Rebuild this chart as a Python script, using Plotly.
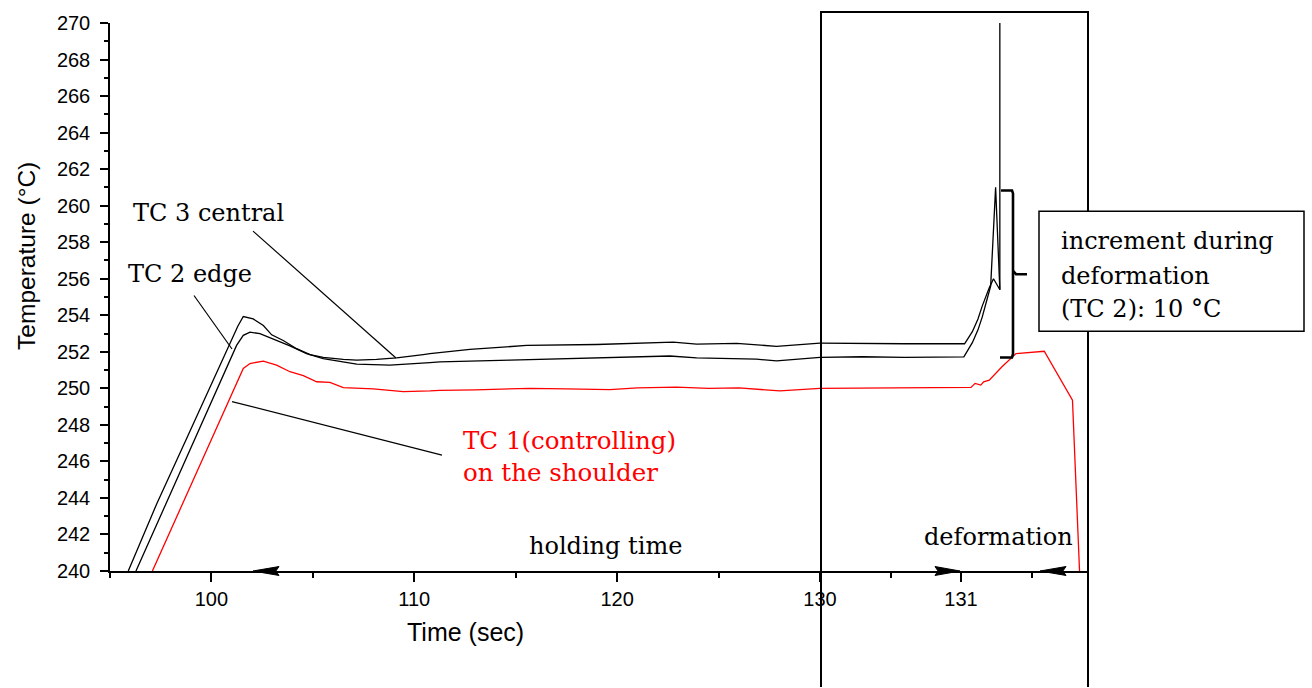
import plotly.graph_objects as go

# ---------------- data ----------------
# left (holding) section, time axis 95-130 s
tc3_t_left = [95.9, 97.3, 98.94, 100.58, 101.3, 101.57, 102.06, 102.56, 102.97, 103.54, 104.2, 104.86,
              105.51, 106.5, 107.16, 108.14, 109.13, 110.44, 110.77, 112.74, 115.54, 118.99, 121.0,
              122.76, 123.92, 125.89, 127.86, 130.0]
tc3_left = [240.0, 243.67, 247.65, 251.63, 253.4, 253.93, 253.8, 253.44, 252.93, 252.62, 252.17, 251.85,
            251.7, 251.59, 251.54, 251.58, 251.67, 251.85, 251.9, 252.13, 252.35, 252.4, 252.45,
            252.53, 252.42, 252.46, 252.3, 252.48]

tc2_t_left = [96.28, 98.0, 99.7, 101.24, 101.57, 101.9, 102.39, 102.89, 103.87, 104.69, 105.51, 107.16,
              108.8, 110.77, 111.26, 114.71, 118.99, 122.6, 123.92, 126.87, 127.86, 130.0]
tc2_left = [240.0, 244.3, 248.5, 252.35, 252.9, 253.08, 252.99, 252.77, 252.32, 251.9, 251.63, 251.32,
            251.27, 251.41, 251.45, 251.54, 251.67, 251.77, 251.67, 251.6, 251.5, 251.7]

tc1_t_left = [97.09, 99.3, 101.57, 101.9, 102.56, 103.21, 103.87, 104.53, 105.19, 105.84, 106.5, 107.98,
              109.46, 110.77, 111.26, 113.0, 115.7, 117.5, 119.64, 121.0, 122.93, 124.5, 126.0, 128.02, 130.0]
tc1_left = [240.0, 245.5, 251.09, 251.36, 251.49, 251.27, 250.91, 250.69, 250.36, 250.33, 250.04, 249.97,
            249.82, 249.86, 249.89, 249.92, 250.0, 249.97, 249.93, 250.02, 250.07, 250.0, 250.02, 249.86, 250.0]

# right (deformation) section, time axis 130-131.9 s
tc3_t_right = [130.0, 130.3, 130.6, 131.025, 131.08, 131.12, 131.15, 131.2, 131.23, 131.26, 131.275, 131.275]
tc3_right = [252.48, 252.45, 252.44, 252.44, 253.1, 253.8, 254.5, 255.5, 256.0, 255.6, 255.4, 275.0]

tc2_t_right = [130.0, 130.3, 130.6, 131.02, 131.08, 131.12, 131.15, 131.19, 131.21, 131.245, 131.275]
tc2_right = [251.7, 251.73, 251.7, 251.72, 252.5, 253.2, 253.9, 255.0, 255.6, 261.0, 255.4]

tc1_t_right = [130.0, 130.5, 131.0, 131.07, 131.1, 131.14, 131.16, 131.2, 131.29, 131.39, 131.59, 131.79, 131.84]
tc1_right = [250.0, 250.02, 250.04, 250.05, 250.27, 250.18, 250.36, 250.45, 251.18, 251.9, 252.03, 249.35, 240.0]

y_ticks = list(range(240, 271, 2))
x_left_ticks = [100, 110, 120]
x_right_ticks = [130, 131]

# ---------------- figure ----------------
W, H = 1312, 688
ML, MR, MT, MB = 110, 224, 18, 117
PW, PH = W - ML - MR, H - MT - MB


def px(x):
    return (x - ML) / PW


def py(y):
    return (H - MB - y) / PH


BLACK = "#000000"
RED = "#ff0000"
SERIF = "DejaVu Serif"
SANS = "Liberation Sans, Arial, sans-serif"

fig = go.Figure()
line_w = 1.3
for t, v, c in [(tc3_t_left, tc3_left, BLACK), (tc2_t_left, tc2_left, BLACK), (tc1_t_left, tc1_left, RED)]:
    fig.add_trace(go.Scatter(x=t, y=v, mode="lines", line=dict(color=c, width=line_w),
                             xaxis="x", yaxis="y", showlegend=False, hoverinfo="skip"))
for t, v, c in [(tc3_t_right, tc3_right, BLACK), (tc2_t_right, tc2_right, BLACK), (tc1_t_right, tc1_right, RED)]:
    fig.add_trace(go.Scatter(x=t, y=v, mode="lines", line=dict(color=c, width=line_w),
                             xaxis="x2", yaxis="y", showlegend=False, hoverinfo="skip"))

split = px(820)
tickfont = dict(family=SANS, size=20, color=BLACK)
axis_common = dict(showline=True, linecolor=BLACK, showgrid=False, zeroline=False,
                   ticks="outside", tickcolor=BLACK, tickfont=tickfont)

fig.update_layout(
    width=W, height=H,
    margin=dict(l=ML, r=MR, t=MT, b=MB),
    paper_bgcolor="white", plot_bgcolor="white",
    xaxis=dict(domain=[0, split], range=[95, 130], tickvals=x_left_ticks,
               ticktext=[str(v) for v in x_left_ticks], ticklen=9, tickwidth=1.5, linewidth=2.2,
               minor=dict(tickvals=[95, 105, 115, 125], ticklen=5, tickwidth=1.5, ticks="outside", tickcolor=BLACK),
               anchor="y", **axis_common),
    xaxis2=dict(domain=[split, 1], range=[130, 131.9], tickvals=x_right_ticks,
                ticktext=[str(v) for v in x_right_ticks], ticklen=9, tickwidth=1.5, linewidth=2.2,
                minor=dict(tickvals=[130.5, 131.5], ticklen=5, tickwidth=1.5, ticks="outside", tickcolor=BLACK),
                anchor="y", **axis_common),
    yaxis=dict(range=[240, 270], tickvals=y_ticks, ticktext=[str(v) for v in y_ticks],
               ticklen=8, tickwidth=1.5, linewidth=1.5, ticklabelstandoff=6,
               minor=dict(dtick=1, ticklen=4, tickwidth=1.5, ticks="outside", tickcolor=BLACK),
               anchor="x", **axis_common),
)

shapes = []
# big deformation frame
shapes.append(dict(type="path", xref="paper", yref="paper",
                   path=f"M {px(821)},{py(688)} L {px(821)},{py(7)} L {px(1088)},{py(7)} L {px(1088)},{py(688)}",
                   line=dict(color=BLACK, width=2), layer="above"))
# leader lines
for (x0, y0, x1, y1) in [(253, 228, 396, 356), (194, 293, 232, 347), (232, 400, 442, 454)]:
    shapes.append(dict(type="line", xref="paper", yref="paper", x0=px(x0), y0=py(y0), x1=px(x1), y1=py(y1),
                       line=dict(color=BLACK, width=1.2), layer="above"))
# bracket
shapes.append(dict(type="path", xref="paper", yref="paper",
                   path=(f"M {px(1001)},{py(187)} L {px(1012)},{py(187)} L {px(1013)},{py(190)} "
                         f"L {px(1013)},{py(352)} L {px(1012)},{py(355.5)} L {px(1000)},{py(355.5)}"),
                   line=dict(color=BLACK, width=2.6), layer="above"))
shapes.append(dict(type="path", xref="paper", yref="paper",
                   path=f"M {px(1013)},{py(268)} L {px(1016)},{py(271.5)} L {px(1027)},{py(271.5)}",
                   line=dict(color=BLACK, width=2.6), layer="above"))
# arrowheads on the time axis
for tip, base in [(253, 279), (960, 935), (1040, 1066)]:
    shapes.append(dict(type="path", xref="paper", yref="paper",
                       path=(f"M {px(tip)},{py(571)} L {px(base)},{py(566.5)} L {px(base - (base - tip) * 0.12)},{py(571)} "
                             f"L {px(base)},{py(575.5)} Z"),
                       fillcolor=BLACK, line=dict(color=BLACK, width=1), layer="above"))
# annotation box
shapes.append(dict(type="rect", xref="paper", yref="paper", x0=px(1039), x1=px(1304), y0=py(329), y1=py(208),
                   fillcolor="white", line=dict(color=BLACK, width=1.5), layer="above"))
fig.update_layout(shapes=shapes)

ann = []


def label(text, x, y, color=BLACK, size=24, family=SERIF, xanchor="center", **kw):
    ann.append(dict(text=text, x=px(x), y=py(y), xref="paper", yref="paper", showarrow=False,
                    xanchor=xanchor, yanchor="middle", font=dict(family=family, size=size, color=color), **kw))


label("TC 3 central", 208, 210)
label("TC 2 edge", 190, 271)
label("TC 1(controlling)", 461, 439, color=RED, size=24.5, xanchor="left")
label("on the shoulder", 461, 472, color=RED, size=24.5, xanchor="left")
label("holding time", 605, 546)
label("deformation", 998, 537)
label("increment during", 1059, 238, xanchor="left")
label("deformation", 1059, 273, xanchor="left")
label("(TC 2): 10 °C", 1059, 307, xanchor="left")
label("Time (sec)", 465, 633, size=25, family=SANS)
label("Temperature (°C)", 27, 253, size=24.5, family=SANS, textangle=-90)
fig.update_layout(annotations=ann)

fig.write_html("out.html")
